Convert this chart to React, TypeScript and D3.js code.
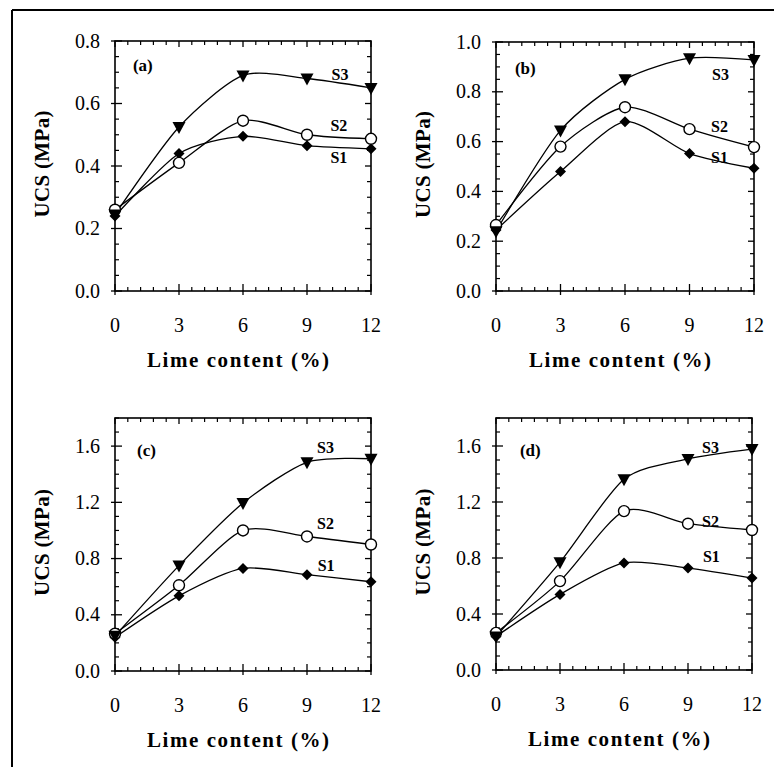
import React from "react";
import * as d3 from "d3";

// ---- data ----
const limeContent = [0, 3, 6, 9, 12];
const xTickValues = [0, 3, 6, 9, 12];
const seriesNames = ["S1", "S2", "S3"];
const panelLetters = ["(a)", "(b)", "(c)", "(d)"];

const yTicksA = [0.0, 0.2, 0.4, 0.6, 0.8];
const yTicksB = [0.0, 0.2, 0.4, 0.6, 0.8, 1.0];
const yTicksCD = [0.0, 0.4, 0.8, 1.2, 1.6];

const aS1 = [0.24, 0.44, 0.495, 0.465, 0.455];
const aS2 = [0.26, 0.41, 0.545, 0.5, 0.487];
const aS3 = [0.245, 0.525, 0.69, 0.68, 0.65];

const bS1 = [0.245, 0.48, 0.68, 0.552, 0.493];
const bS2 = [0.265, 0.58, 0.738, 0.65, 0.578];
const bS3 = [0.24, 0.645, 0.85, 0.935, 0.928];

const cS1 = [0.24, 0.535, 0.73, 0.685, 0.635];
const cS2 = [0.265, 0.61, 1.0, 0.957, 0.9];
const cS3 = [0.25, 0.75, 1.195, 1.485, 1.51];

const dS1 = [0.24, 0.54, 0.765, 0.728, 0.657];
const dS2 = [0.265, 0.635, 1.135, 1.045, 1.0];
const dS3 = [0.24, 0.77, 1.362, 1.508, 1.578];

// ---- layout ----
type Panel = {
  letter: string;
  left: number; right: number; top: number; bottom: number;
  yMax: number; yTicks: number[]; yFmt: string; minorStep: number;
  series: number[][];
  letterPos: [number, number];
  labelPos: [number, number][];
};

const panels: Panel[] = [
  { letter: panelLetters[0], left: 115, right: 371, top: 41, bottom: 291, yMax: 0.8, yTicks: yTicksA, yFmt: ".1f", minorStep: 0.05,
    series: [aS1, aS2, aS3], letterPos: [0.84, 0.705], labelPos: [[10.1, 0.41], [10.1, 0.512], [10.15, 0.675]] },
  { letter: panelLetters[1], left: 496, right: 754, top: 42, bottom: 291, yMax: 1.0, yTicks: yTicksB, yFmt: ".1f", minorStep: 0.05,
    series: [bS1, bS2, bS3], letterPos: [0.88, 0.87], labelPos: [[10.0, 0.514], [10.0, 0.64], [10.05, 0.847]] },
  { letter: panelLetters[2], left: 115, right: 371, top: 418, bottom: 671, yMax: 1.8, yTicks: yTicksCD, yFmt: ".1f", minorStep: 0.1,
    series: [cS1, cS2, cS3], letterPos: [1.03, 1.53], labelPos: [[9.5, 0.715], [9.47, 1.01], [9.47, 1.55]] },
  { letter: panelLetters[3], left: 496, right: 752, top: 418, bottom: 670, yMax: 1.8, yTicks: yTicksCD, yFmt: ".1f", minorStep: 0.1,
    series: [dS1, dS2, dS3], letterPos: [1.12, 1.53], labelPos: [[9.7, 0.768], [9.66, 1.024], [9.66, 1.55]] },
];

const FONT = "Liberation Serif, DejaVu Serif, Times New Roman, serif";
const serif = { fontFamily: FONT };

function Marker({ kind, x, y }: { kind: number; x: number; y: number }) {
  if (kind === 0) {
    const s = 5.5;
    return <path d={`M${x},${y - s}L${x + s},${y}L${x},${y + s}L${x - s},${y}Z`} fill="#000" />;
  }
  if (kind === 1) {
    return <circle cx={x} cy={y} r={5.5} fill="#fff" stroke="#000" strokeWidth={1.4} />;
  }
  const w = 6.5;
  return <path d={`M${x - w},${y - 5}L${x + w},${y - 5}L${x},${y + 7}Z`} fill="#000" />;
}

function PanelView({ p }: { p: Panel }) {
  const x = d3.scaleLinear().domain([0, 12]).range([p.left, p.right]);
  const y = d3.scaleLinear().domain([0, p.yMax]).range([p.bottom, p.top]);
  const line = d3
    .line<number>()
    .x((_, i) => x(limeContent[i]))
    .y((v) => y(v))
    .curve(d3.curveCardinal.tension(0.25));

  const xMinor: number[] = [];
  for (let i = 0; i < xTickValues.length - 1; i++) {
    const a = xTickValues[i], b = xTickValues[i + 1];
    for (let k = 1; k < 5; k++) xMinor.push(a + ((b - a) * k) / 5);
  }
  const yMinor: number[] = [];
  const nMinor = Math.round(p.yMax / p.minorStep);
  for (let k = 0; k <= nMinor; k++) {
    const v = k * p.minorStep;
    if (!p.yTicks.some((t) => Math.abs(t - v) < 1e-6)) yMinor.push(v);
  }
  const fmt = d3.format(p.yFmt);
  const cx = (p.left + p.right) / 2;
  const cy = (p.top + p.bottom) / 2;

  return (
    <g>
      <rect x={p.left} y={p.top} width={p.right - p.left} height={p.bottom - p.top} fill="none" stroke="#000" strokeWidth={1.6} />
      {xTickValues.map((t) => (
        <g key={"xt" + t}>
          <line x1={x(t)} x2={x(t)} y1={p.bottom + 4} y2={p.bottom - 7} stroke="#000" strokeWidth={1.3} />
          <line x1={x(t)} x2={x(t)} y1={p.top} y2={p.top + 6} stroke="#000" strokeWidth={1.3} />
          <text x={x(t)} y={p.bottom + 41} textAnchor="middle" fontSize={20} style={serif}>{t}</text>
        </g>
      ))}
      {xMinor.map((t, i) => (
        <g key={"xm" + i}>
          <line x1={x(t)} x2={x(t)} y1={p.bottom} y2={p.bottom - 4} stroke="#000" strokeWidth={1.2} />
          <line x1={x(t)} x2={x(t)} y1={p.top} y2={p.top + 4} stroke="#000" strokeWidth={1.2} />
        </g>
      ))}
      {p.yTicks.map((t) => (
        <g key={"yt" + t}>
          <line x1={p.left - 4} x2={p.left + 7} y1={y(t)} y2={y(t)} stroke="#000" strokeWidth={1.3} />
          <line x1={p.right} x2={p.right - 6} y1={y(t)} y2={y(t)} stroke="#000" strokeWidth={1.3} />
          <text x={p.left - 15} y={y(t)} dy="0.33em" textAnchor="end" fontSize={20} style={serif}>{fmt(t)}</text>
        </g>
      ))}
      {yMinor.map((t, i) => (
        <g key={"ym" + i}>
          <line x1={p.left} x2={p.left + 4} y1={y(t)} y2={y(t)} stroke="#000" strokeWidth={1.2} />
          <line x1={p.right} x2={p.right - 4} y1={y(t)} y2={y(t)} stroke="#000" strokeWidth={1.2} />
        </g>
      ))}
      <text x={cx - 5} y={p.bottom + 76} textAnchor="middle" fontSize={21} fontWeight="bold" style={serif}
        textLength={182} lengthAdjust="spacing">Lime content (%)</text>
      <text transform={`translate(${p.left - 73},${cy - 2}) rotate(-90)`} textAnchor="middle" dy="0.35em"
        fontSize={21} fontWeight="bold" style={serif} textLength={107} lengthAdjust="spacing">UCS (MPa)</text>
      {p.series.map((s, i) => (
        <path key={"l" + i} d={line(s) || ""} fill="none" stroke="#000" strokeWidth={1.3} />
      ))}
      {p.series.map((s, i) =>
        s.map((v, j) => <Marker key={"m" + i + "-" + j} kind={i} x={x(limeContent[j])} y={y(v)} />)
      )}
      <text x={x(p.letterPos[0])} y={y(p.letterPos[1])} fontSize={17} fontWeight="bold" style={serif}>{p.letter}</text>
      {p.labelPos.map((lp, i) => (
        <text key={"s" + i} x={x(lp[0])} y={y(lp[1])} fontSize={16} fontWeight="bold" style={serif}>{seriesNames[i]}</text>
      ))}
    </g>
  );
}

export default function App() {
  return (
    <svg width={774} height={767} style={{ position: "absolute", left: 0, top: 0, background: "#fff" }}>
      <rect x={0} y={0} width={774} height={767} fill="#fff" />
      <line x1={12} y1={10} x2={774} y2={10} stroke="#000" strokeWidth={2} />
      <line x1={12} y1={10} x2={12} y2={767} stroke="#000" strokeWidth={2} />
      {panels.map((p) => (
        <PanelView key={p.letter} p={p} />
      ))}
    </svg>
  );
}
